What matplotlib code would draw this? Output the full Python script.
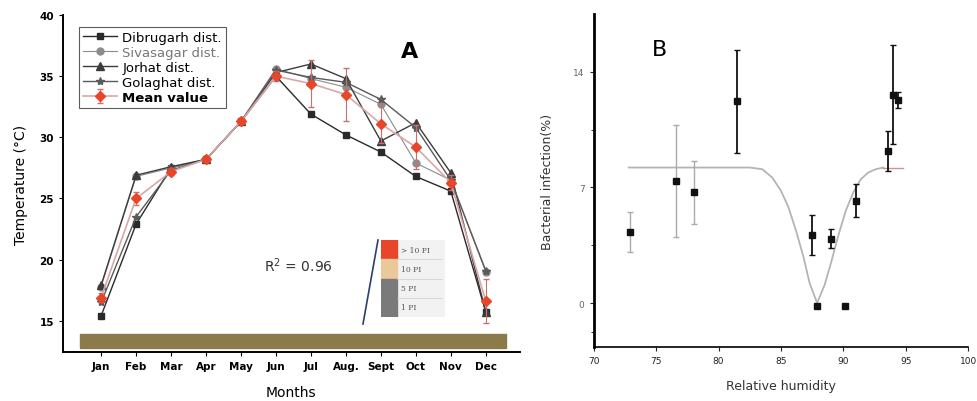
import numpy as np
import matplotlib
matplotlib.use('Agg')
from matplotlib import pyplot as plt
from matplotlib.patches import Rectangle
from matplotlib.lines import Line2D

# ---- panel A data (temperature, deg C) ----
months = ['Jan', 'Feb', 'Mar', 'Apr', 'May', 'Jun', 'Jul', 'Aug.', 'Sept', 'Oct', 'Nov', 'Dec']
dibrugarh = [15.4, 22.9, 27.5, 28.2, 31.3, 35.0, 31.9, 30.2, 28.8, 26.8, 25.6, 15.7]
sivasagar = [17.8, 26.8, 27.5, 28.2, 31.3, 35.6, 34.8, 34.1, 32.7, 27.9, 26.5, 19.0]
jorhat = [17.9, 26.9, 27.6, 28.2, 31.3, 35.3, 36.0, 34.8, 29.7, 31.2, 27.1, 15.7]
golaghat = [16.5, 23.5, 27.3, 28.2, 31.3, 35.5, 34.9, 34.5, 33.1, 30.8, 26.5, 19.1]
mean_val = [16.9, 25.0, 27.2, 28.2, 31.3, 35.0, 34.4, 33.5, 31.1, 29.2, 26.3, 16.6]
mean_err = [0.4, 0.5, 0.3, 0.2, 0.2, 0.4, 1.9, 2.2, 1.6, 1.8, 0.6, 1.8]
r2_text = 'R$^2$ = 0.96'
pi_labels = ['> 10 PI', '10 PI', '5 PI', '1 PI']

# ---- panel B data (bacterial infection %) ----
rh = [72.9, 76.6, 78.0, 81.5, 87.5, 87.9, 89.0, 90.1, 91.0, 93.6, 94.0, 94.4]
infection = [4.3, 7.4, 6.7, 12.2, 4.1, -0.2, 3.9, -0.2, 6.2, 9.2, 12.6, 12.3]
inf_err = [1.2, 3.4, 1.9, 3.1, 1.2, 0.0, 0.6, 0.0, 1.0, 1.2, 3.0, 0.5]
dark_pts = [False, False, False, True, True, True, True, True, True, True, True, True]
fit_x = [72.8, 82.5, 83.5, 84.3, 85.0, 85.6, 86.2, 86.8, 87.3, 87.9, 88.5, 89.0,
         89.6, 90.2, 90.8, 91.4, 92.0, 92.6, 93.2, 94.8]
fit_y = [8.2, 8.2, 8.1, 7.6, 6.8, 5.8, 4.4, 2.8, 1.2, 0.0, 1.1, 2.4,
         4.1, 5.6, 6.7, 7.5, 7.9, 8.1, 8.2, 8.2]

fig = plt.figure(figsize=(9.78, 4.02), dpi=100)

# ================= panel A =================
ax = fig.add_axes([0.0644, 0.122, 0.467, 0.838])
x = np.arange(1, len(months) + 1)

ax.add_patch(Rectangle((0.4, 12.8), 12.17, 1.13, color='#8b7a4a', zorder=1))

ax.plot(x, dibrugarh, '-s', color='#2a2a2a', lw=1.0, ms=5, label='Dibrugarh dist.', zorder=3)
ax.plot(x, sivasagar, '-o', color='#8c8c8c', lw=0.8, ms=5, label='Sivasagar dist.', zorder=3)
ax.plot(x, jorhat, '-^', color='#3c3c3c', lw=1.0, ms=6, label='Jorhat dist.', zorder=3)
ax.plot(x, golaghat, '-*', color='#5a5a5a', lw=1.0, ms=6, label='Golaghat dist.', zorder=3)
ax.errorbar(x, mean_val, yerr=mean_err, fmt='-D', color='#d8a8a8', mfc='#e8452a', mec='#e8452a',
            ecolor='#c87070', elinewidth=0.8, capsize=2, lw=1.2, ms=5, label='Mean value', zorder=4)

ax.set_xlim(-0.09, 12.97)
ax.set_ylim(12.45, 40)
ax.set_xticks(x)
ax.set_xticklabels(months, fontsize=7.5, fontweight='bold')
ax.set_yticks([15, 20, 25, 30, 35, 40])
ax.tick_params(axis='y', labelsize=7.5, length=3)
for t in ax.get_yticklabels():
    t.set_fontweight('bold')
ax.tick_params(axis='x', length=3)
ax.spines['top'].set_visible(False)
ax.spines['right'].set_visible(False)
ax.spines['left'].set_linewidth(1.4)
ax.spines['bottom'].set_linewidth(1.4)
ax.set_ylabel('Temperature (°C)', fontsize=10, labelpad=8)
ax.set_xlabel('Months', fontsize=10, labelpad=10)

leg = ax.legend(loc='upper left', bbox_to_anchor=(0.02, 0.985), fontsize=9.5, frameon=True,
                fancybox=False, edgecolor='#333333', handlelength=2.6, borderpad=0.3,
                labelspacing=0.15, handletextpad=0.4)
leg.get_frame().set_linewidth(0.8)
txts = leg.get_texts()
txts[1].set_color('#777777')
txts[4].set_fontweight('bold')

fig.text(410 / 978, 1 - 52 / 402, 'A', fontsize=16, fontweight='bold', va='center', ha='center')
ax.text(0.44, 0.24, r2_text, transform=ax.transAxes, fontsize=10, color='#333333')

# small PI key
key = fig.add_axes([381 / 978, 1 - 318 / 402, 64 / 978, 77 / 402])
key.set_xlim(0, 1)
key.set_ylim(0, 4)
key.axis('off')
key.add_patch(Rectangle((0, 0), 1, 4, color='#f2f2f2', zorder=0))
block_cols = ['#e8452a', '#e9c99a', '#7a7a7a', '#7a7a7a']
for i, (lab, c) in enumerate(zip(pi_labels, block_cols)):
    yb = 3 - i
    key.add_patch(Rectangle((0, yb), 0.25, 1, color=c, zorder=1))
    key.text(0.32, yb + 0.5, lab, fontsize=5.5, family='DejaVu Serif', color='#555555', va='center')
    key.axhline(yb, xmin=0.25, xmax=0.95, color='#cccccc', lw=0.5)
fig.add_artist(Line2D([378 / 978, 363 / 978], [1 - 241 / 402, 1 - 325 / 402],
                      color='#2d3e70', lw=1.2))

# ================= panel B =================
bx = fig.add_axes([0.607, 0.134, 0.383, 0.829])
bx.plot(fit_x[:19], fit_y[:19], color='#b4b4b4', lw=1.3, zorder=1)
bx.plot(fit_x[18:], fit_y[18:], color='#d49090', lw=1.0, zorder=1)
for xi, yi, ei, dk in zip(rh, infection, inf_err, dark_pts):
    ec = '#111111' if dk else '#aaaaaa'
    bx.errorbar(xi, yi, yerr=ei if ei > 0 else None, fmt='s', color='#111111', ms=5,
                ecolor=ec, elinewidth=1.3 if dk else 1.0, capsize=2, zorder=3)

bx.set_xlim(70, 100)
bx.set_ylim(-2.67, 17.5)
bx.set_xticks([70, 75, 80, 85, 90, 95, 100])
bx.set_yticks([0, 7, 14])
bx.set_yticks([-1.75, 3.5, 10.5], minor=True)
bx.tick_params(axis='both', labelsize=6.5, colors='#222222', length=3)
bx.tick_params(axis='y', labelcolor='#666666')
bx.spines['top'].set_visible(False)
bx.spines['right'].set_visible(False)
bx.spines['left'].set_linewidth(2.0)
bx.spines['bottom'].set_linewidth(1.2)
bx.set_ylabel('Bacterial infection(%)', fontsize=9, color='#333333', labelpad=14)
bx.set_xlabel('Relative humidity', fontsize=9, color='#333333', labelpad=10)
fig.text(660 / 978, 1 - 50 / 402, 'B', fontsize=16, va='center', ha='center')

fig.savefig('out.png', dpi=100)
